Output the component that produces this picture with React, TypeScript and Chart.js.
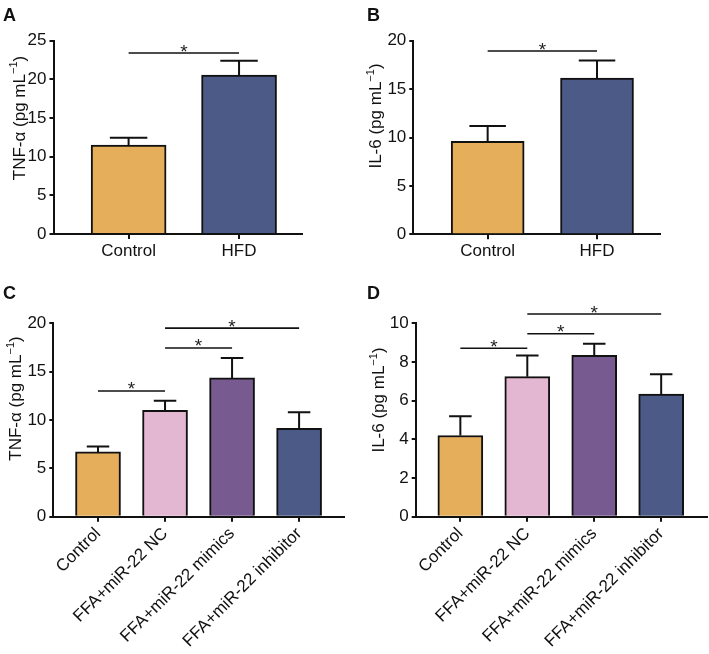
import React, { useEffect, useRef } from "react";
import { Chart, registerables } from "chart.js";

Chart.register(...registerables);
Chart.defaults.font.family = "'Liberation Sans', Arial, Helvetica, sans-serif";
Chart.defaults.color = "#111";

// ---------- data ----------
const labelsAB = ["Control", "HFD"];
const labelsCD = ["Control", "FFA+miR-22 NC", "FFA+miR-22 mimics", "FFA+miR-22 inhibitor"];

const tnfAValues = [11.5, 20.55];
const tnfAErrors = [0.95, 1.85];
const tnfASig = [[0, 1, 23.4]];

const il6BValues = [9.6, 16.15];
const il6BErrors = [1.6, 1.8];
const il6BSig = [[0, 1, 18.93]];

const tnfCValues = [6.7, 11.0, 14.35, 9.15];
const tnfCErrors = [0.55, 1.0, 2.05, 1.65];
const tnfCSig = [[0, 1, 13.0], [1, 2, 17.45], [1, 3, 19.5]];

const il6DValues = [4.2, 7.24, 8.34, 6.34];
const il6DErrors = [1.0, 1.1, 0.6, 1.02];
const il6DSig = [[0, 1, 8.71], [1, 2, 9.46], [1, 3, 10.48]];

const ORANGE = "#E5AE5B";
const PINK = "#E3B7D1";
const PURPLE = "#775A90";
const NAVY = "#4B5A86";
const colorsAB = [ORANGE, NAVY];
const colorsCD = [ORANGE, PINK, PURPLE, NAVY];

type Panel = {
  letter: string;
  left: number; top: number; width: number; height: number;
  labels: string[]; values: number[]; errors: number[]; colors: string[];
  sig: number[][]; yMax: number; yStep: number; titleMain: string;
  chartLeft: number; chartTop: number; chartRight: number; chartBottom: number;
  xMin: number; xMax: number; barWidth: number; rotate: number;
  titleX: number; titleY: number; letterX: number; letterY: number;
};

const panels: Panel[] = [
  {
    letter: "A", left: 0, top: 0, width: 354, height: 270,
    labels: labelsAB, values: tnfAValues, errors: tnfAErrors, colors: colorsAB, sig: tnfASig,
    yMax: 25, yStep: 5, titleMain: "TNF-α (pg mL",
    chartLeft: 53.5, chartTop: 40.7, chartRight: 302, chartBottom: 234,
    xMin: -0.68, xMax: 1.57, barWidth: 75, rotate: 0,
    titleX: 20, titleY: 118, letterX: 3, letterY: 6,
  },
  {
    letter: "B", left: 354, top: 0, width: 355, height: 270,
    labels: labelsAB, values: il6BValues, errors: il6BErrors, colors: colorsAB, sig: il6BSig,
    yMax: 20, yStep: 5, titleMain: "IL-6 (pg mL",
    chartLeft: 59.3, chartTop: 40.7, chartRight: 306, chartBottom: 234.3,
    xMin: -0.68, xMax: 1.576, barWidth: 73, rotate: 0,
    titleX: 22.5, titleY: 116, letterX: 13, letterY: 6,
  },
  {
    letter: "C", left: 0, top: 270, width: 354, height: 384,
    labels: labelsCD, values: tnfCValues, errors: tnfCErrors, colors: colorsCD, sig: tnfCSig,
    yMax: 20, yStep: 5, titleMain: "TNF-α (pg mL",
    chartLeft: 53.3, chartTop: 53.3, chartRight: 344, chartBottom: 246.7,
    xMin: -0.667, xMax: 3.67, barWidth: 45, rotate: 45,
    titleX: 16.7, titleY: 128.5, letterX: 3, letterY: 14,
  },
  {
    letter: "D", left: 354, top: 270, width: 355, height: 384,
    labels: labelsCD, values: il6DValues, errors: il6DErrors, colors: colorsCD, sig: il6DSig,
    yMax: 10, yStep: 2, titleMain: "IL-6 (pg mL",
    chartLeft: 61.7, chartTop: 53.3, chartRight: 352.7, chartBottom: 246.7,
    xMin: -0.667, xMax: 3.68, barWidth: 45, rotate: 45,
    titleX: 25.8, titleY: 130, letterX: 13, letterY: 14,
  },
];

const FONT = "'Liberation Sans', Arial, Helvetica, sans-serif";

function BarPanel({ p }: { p: Panel }) {
  const ref = useRef<HTMLCanvasElement | null>(null);

  useEffect(() => {
    if (!ref.current) return;
    const overlay = {
      id: "overlay_" + p.letter,
      afterDatasetsDraw(chart: any) {
        const ctx = chart.ctx as CanvasRenderingContext2D;
        const ys = chart.scales.y;
        const meta = chart.getDatasetMeta(0);
        ctx.save();
        // error bars
        ctx.strokeStyle = "#111";
        ctx.lineWidth = 2;
        meta.data.forEach((bar: any, i: number) => {
          const x = bar.x;
          const top = ys.getPixelForValue(p.values[i]);
          const tip = ys.getPixelForValue(p.values[i] + p.errors[i]);
          const hw = p.barWidth / 4;
          ctx.beginPath();
          ctx.moveTo(x, top);
          ctx.lineTo(x, tip);
          ctx.moveTo(x - hw, tip);
          ctx.lineTo(x + hw, tip);
          ctx.stroke();
        });
        // significance brackets
        ctx.lineWidth = 1.6;
        ctx.fillStyle = "#222";
        ctx.font = "19px " + FONT;
        ctx.textAlign = "center";
        ctx.textBaseline = "alphabetic";
        p.sig.forEach(([a, b, v]) => {
          const x1 = meta.data[a].x;
          const x2 = meta.data[b].x;
          const yy = ys.getPixelForValue(v);
          ctx.beginPath();
          ctx.moveTo(x1, yy);
          ctx.lineTo(x2, yy);
          ctx.stroke();
          ctx.fillText("*", (x1 + x2) / 2, yy + 4.5);
        });
        // y-axis title with superscript
        const main = "17px " + FONT;
        const sup = "11px " + FONT;
        ctx.font = main;
        const w1 = ctx.measureText(p.titleMain).width;
        const w3 = ctx.measureText(")").width;
        ctx.font = sup;
        const w2 = ctx.measureText("−1").width;
        const W = w1 + w2 + w3;
        ctx.translate(p.titleX, p.titleY);
        ctx.rotate(-Math.PI / 2);
        ctx.textAlign = "left";
        ctx.textBaseline = "middle";
        ctx.fillStyle = "#111";
        let x = -W / 2;
        ctx.font = main;
        ctx.fillText(p.titleMain, x, 0);
        x += w1;
        ctx.font = sup;
        ctx.fillText("−1", x, -6);
        x += w2;
        ctx.font = main;
        ctx.fillText(")", x, 0);
        ctx.restore();
      },
    };

    const chart = new Chart(ref.current, {
      type: "bar",
      data: {
        datasets: [
          {
            data: p.values.map((v, i) => ({ x: i, y: v })),
            backgroundColor: p.colors,
            borderColor: "#111",
            borderWidth: 2,
            barThickness: p.barWidth,
          } as any,
        ],
      },
      options: {
        animation: false,
        responsive: false,
        maintainAspectRatio: false,
        events: [],
        layout: {
          padding: { left: 0, top: p.chartTop, right: p.width - p.chartRight, bottom: 0 },
        },
        plugins: { legend: { display: false }, tooltip: { enabled: false }, title: { display: false } },
        scales: {
          x: {
            type: "linear",
            min: p.xMin,
            max: p.xMax,
            offset: false,
            afterBuildTicks: (s: any) => {
              s.ticks = p.labels.map((_, i) => ({ value: i }));
            },
            afterFit: (s: any) => {
              s.height = p.height - p.chartBottom;
            },
            ticks: {
              autoSkip: false,
              minRotation: p.rotate,
              maxRotation: p.rotate,
              padding: 2,
              font: { size: 17 },
              color: "#111",
              callback: (v: any) => p.labels[Math.round(Number(v))] ?? "",
            },
            grid: {
              offset: false,
              drawOnChartArea: false,
              drawTicks: true,
              tickLength: 5,
              tickColor: "#111",
              lineWidth: 2,
            },
            border: { display: true, color: "#111", width: 2 },
          } as any,
          y: {
            type: "linear",
            min: 0,
            max: p.yMax,
            afterFit: (s: any) => {
              s.width = p.chartLeft;
            },
            ticks: { stepSize: p.yStep, padding: 3, font: { size: 17 }, color: "#111" },
            grid: {
              drawOnChartArea: false,
              drawTicks: true,
              tickLength: 4,
              tickColor: "#111",
              lineWidth: 2,
            },
            border: { display: true, color: "#111", width: 2 },
          } as any,
        },
      },
      plugins: [overlay],
    });
    return () => chart.destroy();
  }, [p]);

  return (
    <div style={{ position: "absolute", left: p.left, top: p.top, width: p.width, height: p.height }}>
      <canvas ref={ref} width={p.width} height={p.height} style={{ width: p.width, height: p.height, display: "block" }} />
      <div
        style={{
          position: "absolute",
          left: p.letterX,
          top: p.letterY,
          fontFamily: FONT,
          fontWeight: "bold",
          fontSize: 18,
          lineHeight: "18px",
          color: "#111",
        }}
      >
        {p.letter}
      </div>
    </div>
  );
}

export default function App() {
  return (
    <div style={{ position: "absolute", left: 0, top: 0, width: 709, height: 654, background: "#fff", overflow: "hidden" }}>
      {panels.map((p) => (
        <BarPanel key={p.letter} p={p} />
      ))}
    </div>
  );
}
